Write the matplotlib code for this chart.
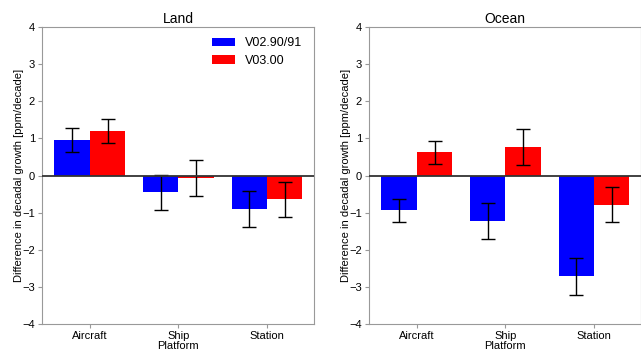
import numpy as np
import matplotlib
matplotlib.use('Agg')
import matplotlib.pyplot as plt

plt.rcParams['font.family'] = ['Liberation Sans', 'DejaVu Sans']

platforms = ['Aircraft', 'Ship', 'Station']
versions = ['V02.90/91', 'V03.00']
colors = ['#0000ff', '#ff0000']

# Land
land_old = [0.95, -0.45, -0.91]
land_old_err = [0.32, 0.47, 0.49]
land_new = [1.19, -0.06, -0.64]
land_new_err = [0.32, 0.48, 0.47]

# Ocean
ocean_old = [-0.94, -1.23, -2.71]
ocean_old_err = [0.31, 0.48, 0.50]
ocean_new = [0.63, 0.77, -0.79]
ocean_new_err = [0.31, 0.49, 0.47]

fig = plt.figure(figsize=(6.41, 3.53), dpi=100)
ax1 = fig.add_axes([42/641, 29/353, 272/641, 297/353])
ax2 = fig.add_axes([369/641, 29/353, 272/641, 297/353])

x = np.arange(len(platforms))
w = 0.4
spine_c = '#999999'

def draw(ax, old, old_err, new, new_err, title):
    ax.bar(x - w/2, old, w, color=colors[0], label=versions[0])
    ax.bar(x + w/2, new, w, color=colors[1], label=versions[1])
    ax.errorbar(x - w/2, old, yerr=old_err, fmt='none', ecolor='black',
                elinewidth=1, capsize=5, capthick=1)
    ax.errorbar(x + w/2, new, yerr=new_err, fmt='none', ecolor='black',
                elinewidth=1, capsize=5, capthick=1)
    ax.axhline(0, color='#333333', lw=1.3, zorder=3)
    ax.set_xlim(-0.54, 2.53)
    ax.set_ylim(-4, 4)
    ax.set_yticks(range(-4, 5))
    ax.set_xticks(x)
    ax.set_xticklabels(platforms)
    ax.set_title(title, fontsize=10, pad=3)
    ax.set_xlabel('Platform', fontsize=8, labelpad=0)
    ax.set_ylabel('Difference in decadal growth [ppm/decade]', fontsize=8)
    ax.yaxis.set_label_coords(-0.067, 0.5)
    ax.tick_params(labelsize=8, length=3, color=spine_c, pad=2)
    for s in ax.spines.values():
        s.set_color(spine_c)

draw(ax1, land_old, land_old_err, land_new, land_new_err, 'Land')
draw(ax2, ocean_old, ocean_old_err, ocean_new, ocean_new_err, 'Ocean')

ax1.legend(loc='upper right', frameon=False, fontsize=9, handlelength=1.9,
           handleheight=0.7, borderaxespad=0, borderpad=0, labelspacing=0.45,
           handletextpad=0.8, bbox_to_anchor=(0.958, 0.965))

fig.savefig('out.png', dpi=100)
